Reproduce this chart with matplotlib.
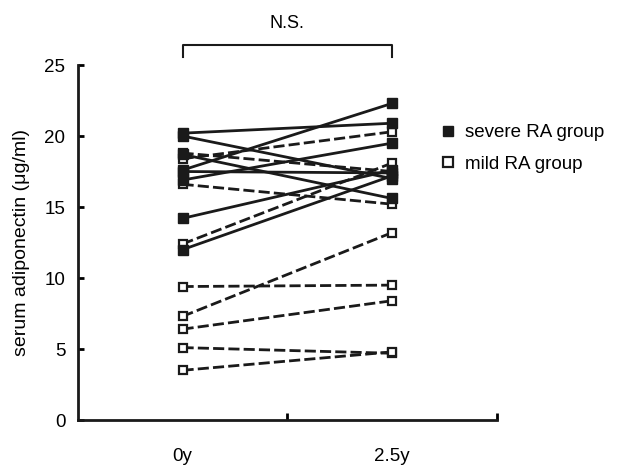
import numpy as np
import matplotlib
matplotlib.use('Agg')
import matplotlib.pyplot as plt
from matplotlib.lines import Line2D

plt.rcParams['font.family'] = ['Liberation Sans', 'DejaVu Sans']

# time points
timepoints = ['0y', '2.5y']

# serum adiponectin (ug/ml), one entry per patient
severe_0y = [20.2, 20.0, 18.7, 17.6, 17.5, 16.9, 14.2, 12.0]
severe_25y = [20.9, 17.0, 15.6, 22.3, 17.4, 19.5, 17.6, 17.2]

mild_0y = [18.8, 18.4, 16.6, 12.4, 9.4, 7.3, 6.4, 5.1, 3.5]
mild_25y = [17.5, 20.3, 15.2, 18.1, 9.5, 13.2, 8.4, 4.7, 4.8]

fig = plt.figure(figsize=(6.22, 4.67), dpi=100)
ax = fig.add_axes([0.125, 0.1006, 0.674, 0.7602])

x = np.arange(len(timepoints))

for a, b in zip(mild_0y, mild_25y):
    ax.plot(x, [a, b], color='#1a1a1a', lw=2, ls=(0, (4, 1.5)),
            marker='s', ms=6, mfc='white', mec='#1a1a1a', mew=1.6, zorder=2)

for a, b in zip(severe_0y, severe_25y):
    ax.plot(x, [a, b], color='#1a1a1a', lw=2, ls='-',
            marker='s', ms=6.5, mfc='#1a1a1a', mec='#1a1a1a', zorder=3)

ax.set_xlim(-0.5, 1.5)
ax.set_ylim(0, 25)
ax.set_yticks([0, 5, 10, 15, 20, 25])
ax.set_xticks(x)
ax.set_xticklabels(timepoints)
ax.set_xticks([0.5, 1.5], minor=True)

ax.tick_params(axis='x', which='major', length=0, pad=20, labelsize=13.5)
ax.tick_params(axis='x', which='minor', direction='in', length=5, width=2)
ax.tick_params(axis='y', direction='in', length=4, width=2, pad=9, labelsize=13.5)

for s in ['top', 'right']:
    ax.spines[s].set_visible(False)
for s in ['left', 'bottom']:
    ax.spines[s].set_linewidth(2)
    ax.spines[s].set_color('#1a1a1a')

ax.set_ylabel('serum adiponectin (μg/ml)', fontsize=14, labelpad=10)

# N.S. bracket
ax.plot([0, 0, 1, 1], [25.55, 26.4, 26.4, 25.55], color='#1a1a1a', lw=1.5,
        clip_on=False)
ax.text(0.5, 27.9, 'N.S.', ha='center', va='center', fontsize=13)

handles = [
    Line2D([], [], ls='none', marker='s', ms=7.5, mfc='#1a1a1a', mec='#1a1a1a'),
    Line2D([], [], ls='none', marker='s', ms=6.5, mfc='white', mec='#1a1a1a', mew=1.6),
]
fig.legend(handles, ['severe RA group', 'mild RA group'], loc='upper left',
           bbox_to_anchor=(0.675, 0.77), frameon=False, fontsize=13.5,
           handletextpad=0.3, labelspacing=0.75, handlelength=1.2)

fig.savefig('out.png', dpi=100)
